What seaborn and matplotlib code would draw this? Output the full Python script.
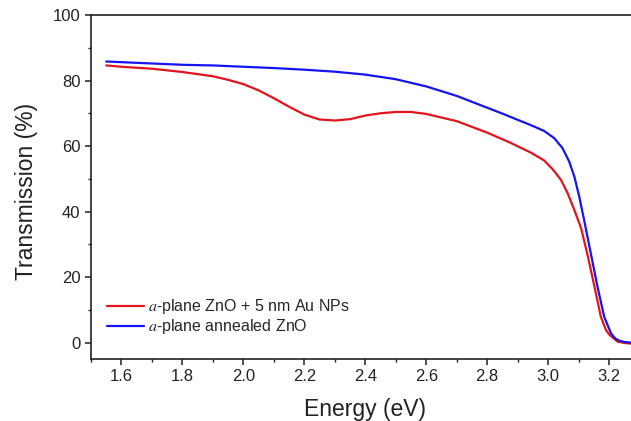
import matplotlib
matplotlib.use("Agg")
import matplotlib.pyplot as plt
from matplotlib.ticker import MultipleLocator
import seaborn as sns
import pandas as pd

# Transmission spectra of a-plane ZnO films
energy_annealed = [1.55, 1.60, 1.70, 1.80, 1.90, 2.00, 2.10, 2.20, 2.30, 2.40,
                   2.50, 2.60, 2.70, 2.80, 2.85, 2.90, 2.943, 2.987, 3.020,
                   3.047, 3.069, 3.086, 3.102, 3.118, 3.14, 3.162, 3.184,
                   3.206, 3.22, 3.233, 3.25, 3.27]
trans_annealed = [85.8, 85.6, 85.2, 84.8, 84.6, 84.2, 83.8, 83.3, 82.7, 81.8,
                  80.4, 78.2, 75.3, 71.7, 69.9, 68.0, 66.4, 64.6, 62.4,
                  59.4, 55.3, 50.7, 44.6, 37.5, 27.3, 17.1, 7.9,
                  2.9, 1.3, 0.6, 0.2, 0.0]

energy_au = [1.55, 1.60, 1.70, 1.75, 1.80, 1.90, 1.95, 2.00, 2.05, 2.10,
             2.15, 2.20, 2.25, 2.30, 2.35, 2.40, 2.45, 2.50, 2.55, 2.60,
             2.70, 2.80, 2.874, 2.943, 2.987, 3.015, 3.042, 3.064, 3.086,
             3.108, 3.13, 3.152, 3.173, 3.19, 3.201, 3.228, 3.25, 3.27]
trans_au = [84.6, 84.2, 83.6, 83.1, 82.6, 81.3, 80.2, 78.9, 77.0, 74.6,
            72.0, 69.6, 68.1, 67.8, 68.2, 69.3, 70.0, 70.4, 70.4, 69.8,
            67.6, 64.1, 61.1, 58.0, 55.6, 52.9, 49.7, 45.6, 40.5,
            35.0, 26.5, 17.1, 7.9, 3.8, 2.4, 0.3, -0.1, -0.3]

label_au = r"$\mathit{a}$-plane ZnO + 5 nm Au NPs"
label_annealed = r"$\mathit{a}$-plane annealed ZnO"

x_ticks = [1.6, 1.8, 2.0, 2.2, 2.4, 2.6, 2.8, 3.0, 3.2]
y_ticks = [0, 20, 40, 60, 80, 100]

sns.set_theme(style="ticks")
plt.rcParams["font.family"] = ["Liberation Sans", "DejaVu Sans"]
plt.rcParams["mathtext.fontset"] = "stix"

df = pd.concat([
    pd.DataFrame({"Energy": energy_au, "T": trans_au, "Sample": label_au}),
    pd.DataFrame({"Energy": energy_annealed, "T": trans_annealed, "Sample": label_annealed}),
])

fig = plt.figure(figsize=(6.31, 4.21), dpi=100)
ax = fig.add_axes([0.1442, 0.1473, 0.8558, 0.8171])

sns.lineplot(data=df, x="Energy", y="T", hue="Sample", sort=False,
             palette={label_au: "#e3141c", label_annealed: "#1414f5"},
             linewidth=1.6, ax=ax)

ax.set_xlim(1.5, 3.272)
ax.set_ylim(-5, 100)
ax.set_xticks(x_ticks)
ax.set_xticklabels([f"{t:.1f}" for t in x_ticks])
ax.set_yticks(y_ticks)
ax.xaxis.set_minor_locator(MultipleLocator(0.1))
ax.yaxis.set_minor_locator(MultipleLocator(10))

ax.tick_params(which="major", direction="out", length=4, width=1.1,
               labelsize=12, color="#222222", labelcolor="#222222", pad=3.5)
ax.tick_params(which="minor", direction="out", length=2.5, width=1.0,
               color="#222222")

for side in ("left", "bottom", "top"):
    ax.spines[side].set_linewidth(1.2)
    ax.spines[side].set_color("#222222")
ax.spines["right"].set_visible(False)

ax.set_xlabel("Energy (eV)", fontsize=16.5, color="#222222", labelpad=10)
ax.set_ylabel("Transmission (%)", fontsize=16.5, color="#222222", labelpad=11)
ax.xaxis.label.set_x(0.508)
ax.yaxis.label.set_y(0.487)

leg = ax.legend(loc="lower left", bbox_to_anchor=(0.0, 0.02), frameon=False,
                fontsize=11.5, handlelength=2.3, handletextpad=0.3,
                labelspacing=0.05, borderaxespad=0.6)
for line in leg.get_lines():
    line.set_linewidth(1.6)

fig.savefig("out.png", dpi=100)
